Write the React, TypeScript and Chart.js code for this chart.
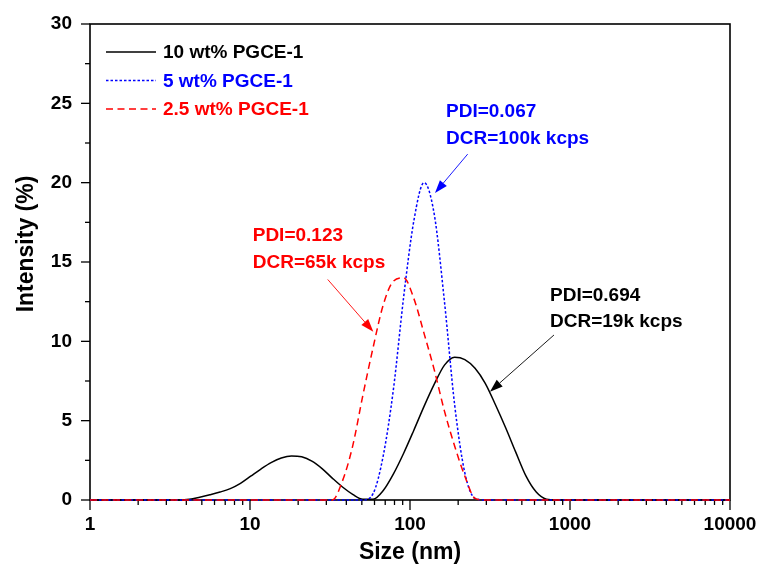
import React, { useEffect, useRef } from 'react';
import { Chart, registerables } from 'chart.js';

Chart.register(...registerables);

// ---- data ----
const sizesNm = [
  1, 3.122, 3.615, 4.187, 4.849, 5.615, 6.503, 7.531, 8.721, 10.1, 11.7, 13.54, 15.69, 18.17, 21.04,
  24.36, 28.21, 32.67, 37.84, 43.82, 50.75, 58.77, 68.06, 78.82, 91.28, 105.7, 122.4, 141.8, 164.2,
  190.1, 220.2, 255.0, 295.3, 342.0, 396.1, 458.7, 531.2, 615.1, 712.4, 825.0, 955.4, 1106, 10000,
];

const series10wt = [
  0, 0, 0, 0.05, 0.18, 0.33, 0.5, 0.72, 1.05, 1.5, 1.95, 2.35, 2.65, 2.78, 2.72,
  2.45, 1.98, 1.38, 0.82, 0.36, 0.05, 0.05, 0.6, 1.65, 2.95, 4.4, 5.9, 7.3, 8.5,
  9.0, 8.85, 8.3, 7.35, 6.0, 4.55, 3.0, 1.5, 0.5, 0.05, 0, 0, 0, 0,
];

const series5wt = [
  0, 0, 0, 0, 0, 0, 0, 0, 0, 0, 0, 0, 0, 0, 0,
  0, 0, 0, 0, 0, 0, 0.4, 2.8, 7.0, 12.8, 17.6, 20.0, 18.0, 12.5,
  6.0, 1.7, 0.1, 0, 0, 0, 0, 0, 0, 0, 0, 0, 0, 0,
];

const series2p5wt = [
  0, 0, 0, 0, 0, 0, 0, 0, 0, 0, 0, 0, 0, 0, 0,
  0, 0, 0, 1.2, 3.4, 6.6, 9.6, 12.3, 13.8, 14.0, 12.7, 10.5, 8.2, 5.6,
  3.4, 1.5, 0.1, 0, 0, 0, 0, 0, 0, 0, 0, 0, 0, 0,
];

const seriesLabels = ['10 wt% PGCE-1', '5 wt% PGCE-1', '2.5 wt% PGCE-1'];
const xTickValues = [1, 10, 100, 1000, 10000];
const xTickLabels = ['1', '10', '100', '1000', '10000'];
const xMinorMultipliers = [2, 3, 4, 5, 6, 7, 8, 9];
const yTickLabels = ['0', '5', '10', '15', '20', '25', '30'];

const annotationLines = [
  ['PDI=0.067', 'DCR=100k kcps'],
  ['PDI=0.123', 'DCR=65k kcps'],
  ['PDI=0.694', 'DCR=19k kcps'],
];
// anchors in data coordinates: [size, intensity]
const annotationTextAt = [[167.9, 24.45], [10.4, 16.64], [750, 12.88]];
const annotationArrowFrom = [[229.4, 21.8], [30.6, 13.9], [794, 10.4]];
const annotationArrowTo = [[143.3, 19.35], [59.0, 10.6], [316, 6.83]];

// ---- styles ----
const FONT = '"Liberation Sans", Arial, sans-serif';
const COLORS = ['#000000', '#0000ff', '#ff0000'];
const ANNOT_COLORS = ['#0000ff', '#ff0000', '#000000'];
const DASHES = [[], [2.5, 2], [7, 4.5]];

const toPts = (vals: number[]) => vals.map((v, i) => ({ x: sizesNm[i], y: v }));

const framePlugin = {
  id: 'frame',
  beforeDatasetsDraw(chart: any) {
    const { ctx, chartArea: a, scales } = chart;
    const xs = scales.x;
    const ys = scales.y;
    ctx.save();
    ctx.strokeStyle = '#000';
    ctx.lineWidth = 1.6;
    ctx.strokeRect(a.left, a.top, a.right - a.left, a.bottom - a.top);
    ctx.lineWidth = 1.3;
    const line = (x1: number, y1: number, x2: number, y2: number) => {
      ctx.beginPath();
      ctx.moveTo(x1, y1);
      ctx.lineTo(x2, y2);
      ctx.stroke();
    };
    const yt = ys.ticks;
    yt.forEach((t: any, i: number) => {
      const p = ys.getPixelForValue(t.value);
      line(a.left - 9, p, a.left, p);
      if (i < yt.length - 1) {
        const m = ys.getPixelForValue((t.value + yt[i + 1].value) / 2);
        line(a.left - 5, m, a.left, m);
      }
    });
    xTickValues.forEach((v, i) => {
      const p = xs.getPixelForValue(v);
      line(p, a.bottom, p, a.bottom + 10);
      if (i < xTickValues.length - 1) {
        xMinorMultipliers.forEach((m) => {
          const q = xs.getPixelForValue(v * m);
          line(q, a.bottom, q, a.bottom + 5);
        });
      }
    });
    ctx.restore();
  },
  afterDatasetsDraw(chart: any) {
    const { ctx, chartArea: a, scales } = chart;
    const xs = scales.x;
    const ys = scales.y;
    ctx.save();
    // legend
    chart.data.datasets.forEach((ds: any, i: number) => {
      const y = 52 + i * 28.5;
      ctx.strokeStyle = ds.borderColor;
      ctx.lineWidth = 1.5;
      ctx.setLineDash(ds.borderDash || []);
      ctx.beginPath();
      ctx.moveTo(a.left + 16, y);
      ctx.lineTo(a.left + 66, y);
      ctx.stroke();
      ctx.setLineDash([]);
      ctx.fillStyle = ds.borderColor;
      ctx.font = `bold 19px ${FONT}`;
      ctx.textAlign = 'left';
      ctx.textBaseline = 'middle';
      ctx.fillText(ds.label, a.left + 73, y + 1);
    });
    // annotations
    annotationLines.forEach((lines, i) => {
      const color = ANNOT_COLORS[i];
      const tx = xs.getPixelForValue(annotationTextAt[i][0]);
      const ty = ys.getPixelForValue(annotationTextAt[i][1]);
      ctx.fillStyle = color;
      ctx.font = `bold 19px ${FONT}`;
      ctx.textAlign = 'left';
      ctx.textBaseline = 'middle';
      lines.forEach((t, k) => ctx.fillText(t, tx, ty + k * 26.5));
      const x1 = xs.getPixelForValue(annotationArrowFrom[i][0]);
      const y1 = ys.getPixelForValue(annotationArrowFrom[i][1]);
      const x2 = xs.getPixelForValue(annotationArrowTo[i][0]);
      const y2 = ys.getPixelForValue(annotationArrowTo[i][1]);
      const ang = Math.atan2(y2 - y1, x2 - x1);
      const L = 13;
      const W = 4.5;
      const bx = x2 - L * Math.cos(ang);
      const by = y2 - L * Math.sin(ang);
      ctx.strokeStyle = color;
      ctx.lineWidth = 0.9;
      ctx.beginPath();
      ctx.moveTo(x1, y1);
      ctx.lineTo(bx, by);
      ctx.stroke();
      ctx.beginPath();
      ctx.moveTo(x2, y2);
      ctx.lineTo(bx + W * Math.sin(ang), by - W * Math.cos(ang));
      ctx.lineTo(bx - W * Math.sin(ang), by + W * Math.cos(ang));
      ctx.closePath();
      ctx.fill();
    });
    // axis titles
    ctx.fillStyle = '#000';
    ctx.font = `bold 23px ${FONT}`;
    ctx.textAlign = 'center';
    ctx.textBaseline = 'middle';
    ctx.fillText('Size (nm)', (a.left + a.right) / 2, 553);
    ctx.translate(27, 244);
    ctx.rotate(-Math.PI / 2);
    ctx.fillText('Intensity (%)', 0, 0);
    ctx.restore();
  },
};

export default function App() {
  const ref = useRef<HTMLCanvasElement | null>(null);

  useEffect(() => {
    document.body.style.margin = '0';
    document.body.style.overflow = 'hidden';
    const canvas = ref.current;
    if (!canvas) return;
    const seriesValues = [series10wt, series5wt, series2p5wt];
    const chart = new Chart(canvas, {
      type: 'scatter',
      data: {
        datasets: seriesValues.map((vals, i) => ({
          label: seriesLabels[i],
          data: toPts(vals),
          showLine: true,
          borderColor: COLORS[i],
          backgroundColor: COLORS[i],
          borderWidth: 1.5,
          borderDash: DASHES[i],
          pointRadius: 0,
          pointHoverRadius: 0,
          cubicInterpolationMode: 'monotone',
          tension: 0.4,
          fill: false,
          clip: false,
          order: 3 - i,
        })) as any,
      },
      options: {
        responsive: false,
        animation: false,
        events: [],
        layout: { padding: { top: 24, right: 31, left: 0, bottom: 0 } },
        plugins: { legend: { display: false }, tooltip: { enabled: false } },
        scales: {
          x: {
            type: 'logarithmic',
            min: 1,
            max: 10000,
            border: { display: false },
            grid: { display: false, drawTicks: false },
            afterBuildTicks: (s: any) => {
              s.ticks = xTickValues.map((v) => ({ value: v }));
            },
            afterFit: (s: any) => {
              s.height = 67;
              s.paddingLeft = 0;
              s.paddingRight = 0;
            },
            ticks: {
              autoSkip: false,
              maxRotation: 0,
              padding: 13,
              color: '#000',
              font: { family: FONT, size: 19, weight: 'bold' },
              callback: (v: any) => {
                const idx = xTickValues.indexOf(Number(v));
                return idx >= 0 ? xTickLabels[idx] : '';
              },
            },
          },
          y: {
            min: 0,
            max: 30,
            border: { display: false },
            grid: { display: false, drawTicks: false },
            afterFit: (s: any) => {
              s.width = 90;
              s.paddingTop = 0;
              s.paddingBottom = 0;
            },
            ticks: {
              stepSize: 5,
              padding: 18,
              color: '#000',
              font: { family: FONT, size: 19, weight: 'bold' },
              callback: (v: any) => yTickLabels[Math.round(Number(v) / 5)] ?? '',
            },
          },
        },
      },
      plugins: [framePlugin],
    } as any);
    return () => chart.destroy();
  }, []);

  return (
    <div style={{ width: 761, height: 567, background: '#fff' }}>
      <canvas ref={ref} width={761} height={567} style={{ display: 'block' }} />
    </div>
  );
}
